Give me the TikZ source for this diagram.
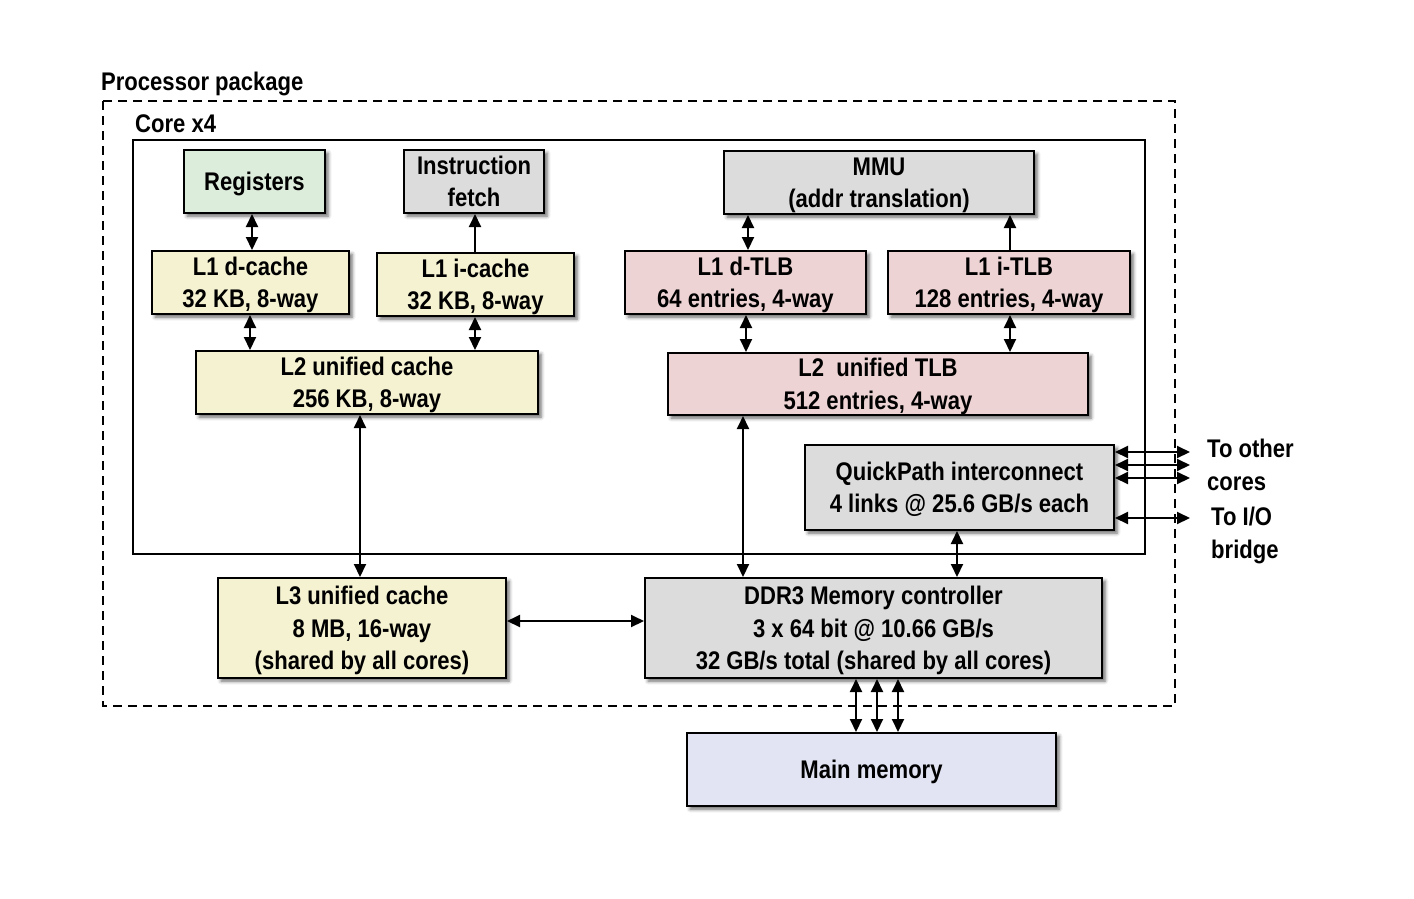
\documentclass[tikz,border=0pt]{standalone}
\usepackage{fontspec}
\newfontfamily\labfont{Liberation Sans Bold}[FakeStretch=0.865]
\usetikzlibrary{arrows.meta,shadows.blur}
\definecolor{cgreen}{HTML}{DDEDDB}
\definecolor{cgray}{HTML}{DCDCDC}
\definecolor{cyellow}{HTML}{F5F2D2}
\definecolor{cpink}{HTML}{EED3D4}
\definecolor{clav}{HTML}{E2E4F3}
\tikzset{
  box/.style={draw=black, line width=2pt, inner sep=0pt, align=center, text depth=0pt,
    font=\labfont\fontsize{25.5}{32.5}\selectfont,
    blur shadow={shadow xshift=3pt, shadow yshift=-3pt, shadow blur radius=3.5pt, shadow opacity=60}},
  lab/.style={inner sep=0pt, align=left, font=\labfont\fontsize{25.5}{33}\selectfont},
  arr/.style={line width=2pt, {Triangle[length=13pt,width=12pt]}-{Triangle[length=13pt,width=12pt]}},
  arrone/.style={line width=2pt, -{Triangle[length=13pt,width=12pt]}}
}
\begin{document}
\begin{tikzpicture}[x=1pt,y=-1pt]
\useasboundingbox (0,0) rectangle (1414,898);
% outer package and core
\draw[line width=2pt, dash pattern=on 9pt off 6pt] (103,101) rectangle (1175,706);
\node[lab, anchor=west] (pkg) at (101,84) {Processor package};
\draw[line width=2pt] (133,140) rectangle (1145,554);
\node[lab, anchor=west] (core) at (135,124) {Core x4};
% boxes
\node[box, fill=cgreen, minimum width=141pt, minimum height=63pt] (reg) at (254.5,181.5) {Registers};
\node[box, fill=cgray, minimum width=140pt, minimum height=63pt] (ifetch) at (474,181.5) {Instruction\\fetch};
\node[box, fill=cgray, minimum width=310pt, minimum height=63pt] (mmu) at (879,182.5) {MMU\\(addr translation)};
\node[box, fill=cyellow, minimum width=197pt, minimum height=63pt] (l1d) at (250.5,282.5) {L1 d-cache\\32 KB, 8-way};
\node[box, fill=cyellow, minimum width=197pt, minimum height=63pt] (l1i) at (475.5,284.5) {L1 i-cache\\32 KB, 8-way};
\node[box, fill=cpink, minimum width=241pt, minimum height=63pt] (dtlb) at (745.5,282.5) {L1 d-TLB\\64 entries, 4-way};
\node[box, fill=cpink, minimum width=242pt, minimum height=63pt] (itlb) at (1009,282.5) {L1 i-TLB\\128 entries, 4-way};
\node[box, fill=cyellow, minimum width=342pt, minimum height=63pt] (l2) at (367,382.5) {L2 unified cache\\256 KB, 8-way};
\node[box, fill=cpink, minimum width=420pt, minimum height=62pt] (l2tlb) at (878,384) {L2\ \ unified TLB\\512 entries, 4-way};
\node[box, fill=cgray, minimum width=309pt, minimum height=85pt] (qpi) at (959.5,487.5) {QuickPath interconnect\\4 links @ 25.6 GB/s each};
\node[box, fill=cyellow, minimum width=288pt, minimum height=100pt] (l3) at (362,628) {L3 unified cache\\8 MB, 16-way\\(shared by all cores)};
\node[box, fill=cgray, minimum width=457pt, minimum height=100pt] (ddr) at (873.5,628) {DDR3 Memory controller\\3 x 64 bit @ 10.66 GB/s\\32 GB/s total (shared by all cores)};
\node[box, fill=clav, minimum width=369pt, minimum height=73pt] (mem) at (871.5,769.5) {Main memory};
% external labels
\node[lab, anchor=west] (other) at (1207,464.5) {To other\\cores};
\node[lab, anchor=west] (io) at (1211,535) {To I/O\\bridge};
% x positions
\coordinate (xa) at (252,0);
\coordinate (xb) at (475,0);
\coordinate (xc) at (748,0);
\coordinate (xd) at (1010,0);
\coordinate (xe) at (250,0);
\coordinate (xf) at (746,0);
\coordinate (xg) at (360,0);
\coordinate (xh) at (743,0);
\coordinate (xi) at (957,0);
\coordinate (xm1) at (856,0);
\coordinate (xm2) at (877,0);
\coordinate (xm3) at (898,0);
\coordinate (ya) at (0,621);
\coordinate (q1) at (1190,452);
\coordinate (q2) at (1190,465);
\coordinate (q3) at (1190,478);
\coordinate (q4) at (1190,518);
% connectors
\draw[arr] (xa |- reg.south) -- (xa |- l1d.north);
\draw[arrone] (xb |- l1i.north) -- (xb |- ifetch.south);
\draw[arr] (xe |- l1d.south) -- (xe |- l2.north);
\draw[arr] (xb |- l1i.south) -- (xb |- l2.north);
\draw[arr] (xc |- mmu.south) -- (xc |- dtlb.north);
\draw[arrone] (xd |- itlb.north) -- (xd |- mmu.south);
\draw[arr] (xf |- dtlb.south) -- (xf |- l2tlb.north);
\draw[arr] (xd |- itlb.south) -- (xd |- l2tlb.north);
\draw[arr] (xg |- l2.south) -- (xg |- l3.north);
\draw[arr] (xh |- l2tlb.south) -- (xh |- ddr.north);
\draw[arr] (xi |- qpi.south) -- (xi |- ddr.north);
\draw[arr] (l3.east |- ya) -- (ddr.west |- ya);
\draw[arr] (qpi.east |- q1) -- (q1);
\draw[arr] (qpi.east |- q2) -- (q2);
\draw[arr] (qpi.east |- q3) -- (q3);
\draw[arr] (qpi.east |- q4) -- (q4);
\draw[arr] (xm1 |- ddr.south) -- (xm1 |- mem.north);
\draw[arr] (xm2 |- ddr.south) -- (xm2 |- mem.north);
\draw[arr] (xm3 |- ddr.south) -- (xm3 |- mem.north);
\end{tikzpicture}
\end{document}
